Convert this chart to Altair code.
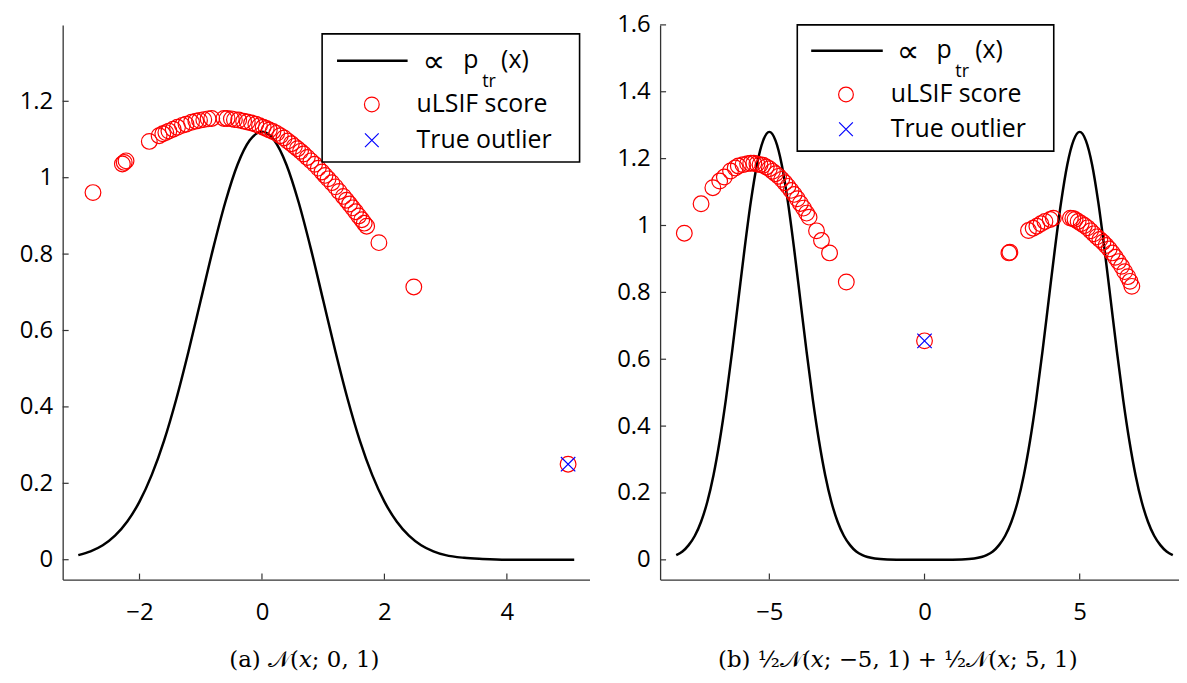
import altair as alt
import pandas as pd

# ---------------- data: panel (a) ----------------
curve_a_x = [-3.0, -2.8, -2.6, -2.4, -2.2, -2.0, -1.8, -1.6, -1.4, -1.2, -1.0, -0.8, -0.6, -0.4, -0.2,
             0.0, 0.2, 0.4, 0.6, 0.8, 1.0, 1.2, 1.4, 1.6, 1.8, 2.0, 2.2, 2.4, 2.6, 2.8, 3.0, 3.3, 3.6,
             4.0, 4.5, 5.1]
curve_a_y = [0.012, 0.022, 0.038, 0.063, 0.100, 0.152, 0.222, 0.311, 0.420, 0.545, 0.679, 0.813, 0.935,
             1.034, 1.098, 1.120, 1.098, 1.034, 0.935, 0.813, 0.679, 0.545, 0.420, 0.311, 0.222, 0.152,
             0.100, 0.063, 0.038, 0.022, 0.012, 0.005, 0.002, 0.0, 0.0, 0.0]

score_a_x = [-2.76, -2.28, -2.25, -2.22, -1.84, -1.68, -1.62, -1.57, -1.52, -1.45, -1.38, -1.30, -1.24,
             -1.15, -1.08, -1.02, -0.95, -0.88, -0.82, -0.62, -0.57, -0.50, -0.45, -0.38, -0.30, -0.24,
             -0.17, -0.10, -0.04, 0.02, 0.07, 0.12, 0.18, 0.24, 0.30, 0.36, 0.42, 0.48, 0.53, 0.58,
             0.63, 0.68, 0.74, 0.80, 0.86, 0.92, 0.98, 1.03, 1.08, 1.14, 1.20, 1.26, 1.33, 1.38, 1.43,
             1.48, 1.53, 1.58, 1.63, 1.67, 1.71, 1.91, 2.48, 5.0]
score_a_y = [0.961, 1.036, 1.040, 1.044, 1.095, 1.110, 1.115, 1.118, 1.122, 1.127, 1.132, 1.137, 1.140,
             1.145, 1.148, 1.150, 1.152, 1.154, 1.155, 1.155, 1.155, 1.154, 1.152, 1.151, 1.148, 1.146,
             1.143, 1.140, 1.136, 1.132, 1.129, 1.125, 1.121, 1.116, 1.110, 1.104, 1.096, 1.089, 1.082,
             1.076, 1.069, 1.062, 1.053, 1.044, 1.035, 1.025, 1.015, 1.006, 0.997, 0.987, 0.976, 0.964,
             0.951, 0.941, 0.931, 0.921, 0.911, 0.900, 0.890, 0.881, 0.873, 0.830, 0.714, 0.250]

outlier_a_x = [5.0]
outlier_a_y = [0.250]

# ---------------- data: panel (b) ----------------
curve_b_x = [-8.0, -7.8, -7.6, -7.4, -7.2, -7.0, -6.8, -6.6, -6.4, -6.2, -6.0, -5.8, -5.6, -5.4, -5.2,
             -5.0, -4.8, -4.6, -4.4, -4.2, -4.0, -3.8, -3.6, -3.4, -3.2, -3.0, -2.8, -2.6, -2.4, -2.2,
             -2.0, -1.6, -1.2, -0.6, 0.0, 0.6, 1.2, 1.6, 2.0, 2.2, 2.4, 2.6, 2.8, 3.0, 3.2, 3.4, 3.6,
             3.8, 4.0, 4.2, 4.4, 4.6, 4.8, 5.0, 5.2, 5.4, 5.6, 5.8, 6.0, 6.2, 6.4, 6.6, 6.8, 7.0, 7.2,
             7.4, 7.6, 7.8, 8.0]
curve_b_y = [0.014, 0.025, 0.044, 0.072, 0.114, 0.173, 0.253, 0.356, 0.480, 0.623, 0.776, 0.929, 1.069,
             1.182, 1.254, 1.280, 1.254, 1.182, 1.069, 0.929, 0.776, 0.623, 0.480, 0.356, 0.253, 0.173,
             0.114, 0.072, 0.044, 0.025, 0.014, 0.004, 0.001, 0.0, 0.0, 0.0, 0.001, 0.004, 0.014, 0.025,
             0.044, 0.072, 0.114, 0.173, 0.253, 0.356, 0.480, 0.623, 0.776, 0.929, 1.069, 1.182, 1.254,
             1.280, 1.254, 1.182, 1.069, 0.929, 0.776, 0.623, 0.480, 0.356, 0.253, 0.173, 0.114, 0.072,
             0.044, 0.025, 0.014]

score_b_x = [-7.74, -7.20, -6.82, -6.60, -6.45, -6.25, -6.10, -6.00, -5.85, -5.70, -5.60, -5.50, -5.40,
             -5.30, -5.20, -5.10, -5.00, -4.90, -4.80, -4.70, -4.60, -4.50, -4.40, -4.30, -4.20, -4.10,
             -4.00, -3.90, -3.80, -3.72, -3.48, -3.32, -3.06, -2.52, 0.0,
             2.72, 2.75, 3.35, 3.50, 3.62, 3.75, 3.88, 4.05, 4.15, 4.70, 4.78, 4.85, 4.95, 5.05, 5.15,
             5.25, 5.35, 5.45, 5.55, 5.65, 5.75, 5.85, 5.95, 6.05, 6.15, 6.25, 6.35, 6.45, 6.55, 6.62,
             6.68]
score_b_y = [0.977, 1.065, 1.113, 1.133, 1.145, 1.163, 1.172, 1.178, 1.182, 1.185, 1.186, 1.186, 1.184,
             1.182, 1.180, 1.175, 1.170, 1.162, 1.155, 1.147, 1.138, 1.128, 1.117, 1.105, 1.093, 1.080,
             1.066, 1.052, 1.037, 1.025, 0.984, 0.955, 0.918, 0.831, 0.655,
             0.918, 0.920, 0.985, 0.992, 0.998, 1.005, 1.012, 1.018, 1.022, 1.022, 1.021, 1.018, 1.012,
             1.006, 1.000, 0.993, 0.984, 0.975, 0.966, 0.958, 0.950, 0.940, 0.930, 0.918, 0.905, 0.892,
             0.878, 0.862, 0.847, 0.833, 0.818]

outlier_b_x = [0.0]
outlier_b_y = [0.655]

ticks_a_x = [-2, 0, 2, 4]
ticks_a_y = [0, 0.2, 0.4, 0.6, 0.8, 1.0, 1.2]
ticks_b_x = [-5, 0, 5]
ticks_b_y = [0, 0.2, 0.4, 0.6, 0.8, 1.0, 1.2, 1.4, 1.6]

caption_a = "(a) 𝒩(𝑥; 0, 1)"
caption_b = "(b) ½𝒩(𝑥; −5, 1) + ½𝒩(𝑥; 5, 1)"

legend_labels = ["∝", "p", "tr", "(x)", "uLSIF score", "True outlier"]

# ---------------- styling ----------------
FONT = "Open Sans"
AFS = 24   # axis labels
LFS = 25   # legend text
H = 558
XMARK = "M-1,-1L1,1M-1,1L1,-1"


def one_row():
    return alt.Chart(pd.DataFrame({"k": [0]}))


def txt(x, y, s, size, font=FONT):
    return one_row().mark_text(align="left", baseline="middle", font=font, fontSize=size,
                               color="black").encode(x=alt.value(x), y=alt.value(y), text=alt.value(s))


def panel(cx, cy, sx, sy, ox, oy, xdom, ydom, xt, yt, W, leg, caption):
    xscale = alt.Scale(domain=xdom, nice=False, zero=False)
    yscale = alt.Scale(domain=ydom, nice=False, zero=False)
    axis_common = dict(title=None, grid=False, ticks=False, labelFont=FONT, labelFontSize=AFS,
                       labelColor="black", domainColor="#333333", domainWidth=1.3, format="~g")
    X = alt.X("x:Q", scale=xscale, axis=alt.Axis(values=xt, labelPadding=21, **axis_common))
    Y = alt.Y("y:Q", scale=yscale, axis=alt.Axis(values=yt, labelPadding=10, **axis_common))

    curve = alt.Chart(pd.DataFrame({"x": cx, "y": cy})).mark_line(
        color="black", strokeWidth=2.5, interpolate="monotone").encode(x=X, y=Y)
    pts = alt.Chart(pd.DataFrame({"x": sx, "y": sy})).mark_point(
        shape="circle", filled=False, color="red", size=250, strokeWidth=1.2, opacity=1).encode(x=X, y=Y)
    out = alt.Chart(pd.DataFrame({"x": ox, "y": oy})).mark_point(
        shape=XMARK, filled=False, color="blue", size=210, strokeWidth=1.2, opacity=1).encode(x=X, y=Y)
    xtick = alt.Chart(pd.DataFrame({"x": xt})).mark_rule(color="#333333", strokeWidth=1.2).encode(
        x=X, y=alt.value(H), y2=alt.value(H - 6))
    ytick = alt.Chart(pd.DataFrame({"y": yt})).mark_rule(color="#333333", strokeWidth=1.2).encode(
        y=Y, x=alt.value(0), x2=alt.value(6))

    bx0, by0, bx1, by1 = leg["box"]
    box = one_row().mark_rect(fill="white", stroke="black", strokeWidth=1.6).encode(
        x=alt.value(bx0), x2=alt.value(bx1), y=alt.value(by0), y2=alt.value(by1))
    lx0, lx1, ly = leg["line"]
    lline = one_row().mark_rule(color="black", strokeWidth=2.5).encode(
        x=alt.value(lx0), x2=alt.value(lx1), y=alt.value(ly))
    t_prop = txt(leg["prop"], ly + 1, legend_labels[0], 32, "DejaVu Sans")
    t_p = txt(leg["p"], ly - 1, legend_labels[1], LFS)
    t_sub = txt(leg["sub"], ly + 21, legend_labels[2], 18)
    t_arg = txt(leg["arg"], ly - 1, legend_labels[3], LFS)
    mc = one_row().mark_point(shape="circle", filled=False, color="red", size=220,
                              strokeWidth=1.2, opacity=1).encode(
        x=alt.value(leg["mk"]), y=alt.value(leg["r2"]))
    mx = one_row().mark_point(shape=XMARK, filled=False, color="blue", size=190,
                              strokeWidth=1.2, opacity=1).encode(
        x=alt.value(leg["mk"]), y=alt.value(leg["r3"]))
    t2 = txt(leg["tx"], leg["r2"], legend_labels[4], LFS)
    t3 = txt(leg["tx"], leg["r3"], legend_labels[5], LFS)

    return alt.layer(curve, pts, out, xtick, ytick, box, lline, t_prop, t_p, t_sub, t_arg,
                     mc, mx, t2, t3).properties(
        width=W, height=H,
        title=alt.TitleParams(caption, orient="bottom", anchor="middle", frame="bounds",
                              font="DejaVu Serif", fontSize=23, fontWeight="normal",
                              color="black", offset=25))


leg_a = dict(box=(261, 9, 520, 138), line=(276, 347, 36), prop=362, p=403, sub=422,
             arg=441, mk=311, r2=80, r3=116, tx=356)
leg_b = dict(box=(138, 0, 396, 127), line=(152, 224, 26), prop=238, p=278, sub=297,
             arg=317, mk=187, r2=70, r3=105, tx=232)

pa = panel(curve_a_x, curve_a_y, score_a_x, score_a_y, outlier_a_x, outlier_a_y,
           [-3.255, 5.35], [-0.052, 1.4], ticks_a_x, ticks_a_y, 530, leg_a, caption_a)
pb = panel(curve_b_x, curve_b_y, score_b_x, score_b_y, outlier_b_x, outlier_b_y,
           [-8.52, 8.2], [-0.059, 1.6], ticks_b_x, ticks_b_y, 522, leg_b, caption_b)

chart = alt.hconcat(pa, pb, spacing=27).properties(
    padding={"left": 11, "top": 3, "right": 0, "bottom": 0}
).configure_view(stroke=None)

chart.save("out.html", embed_options={"renderer": "svg", "actions": False})
